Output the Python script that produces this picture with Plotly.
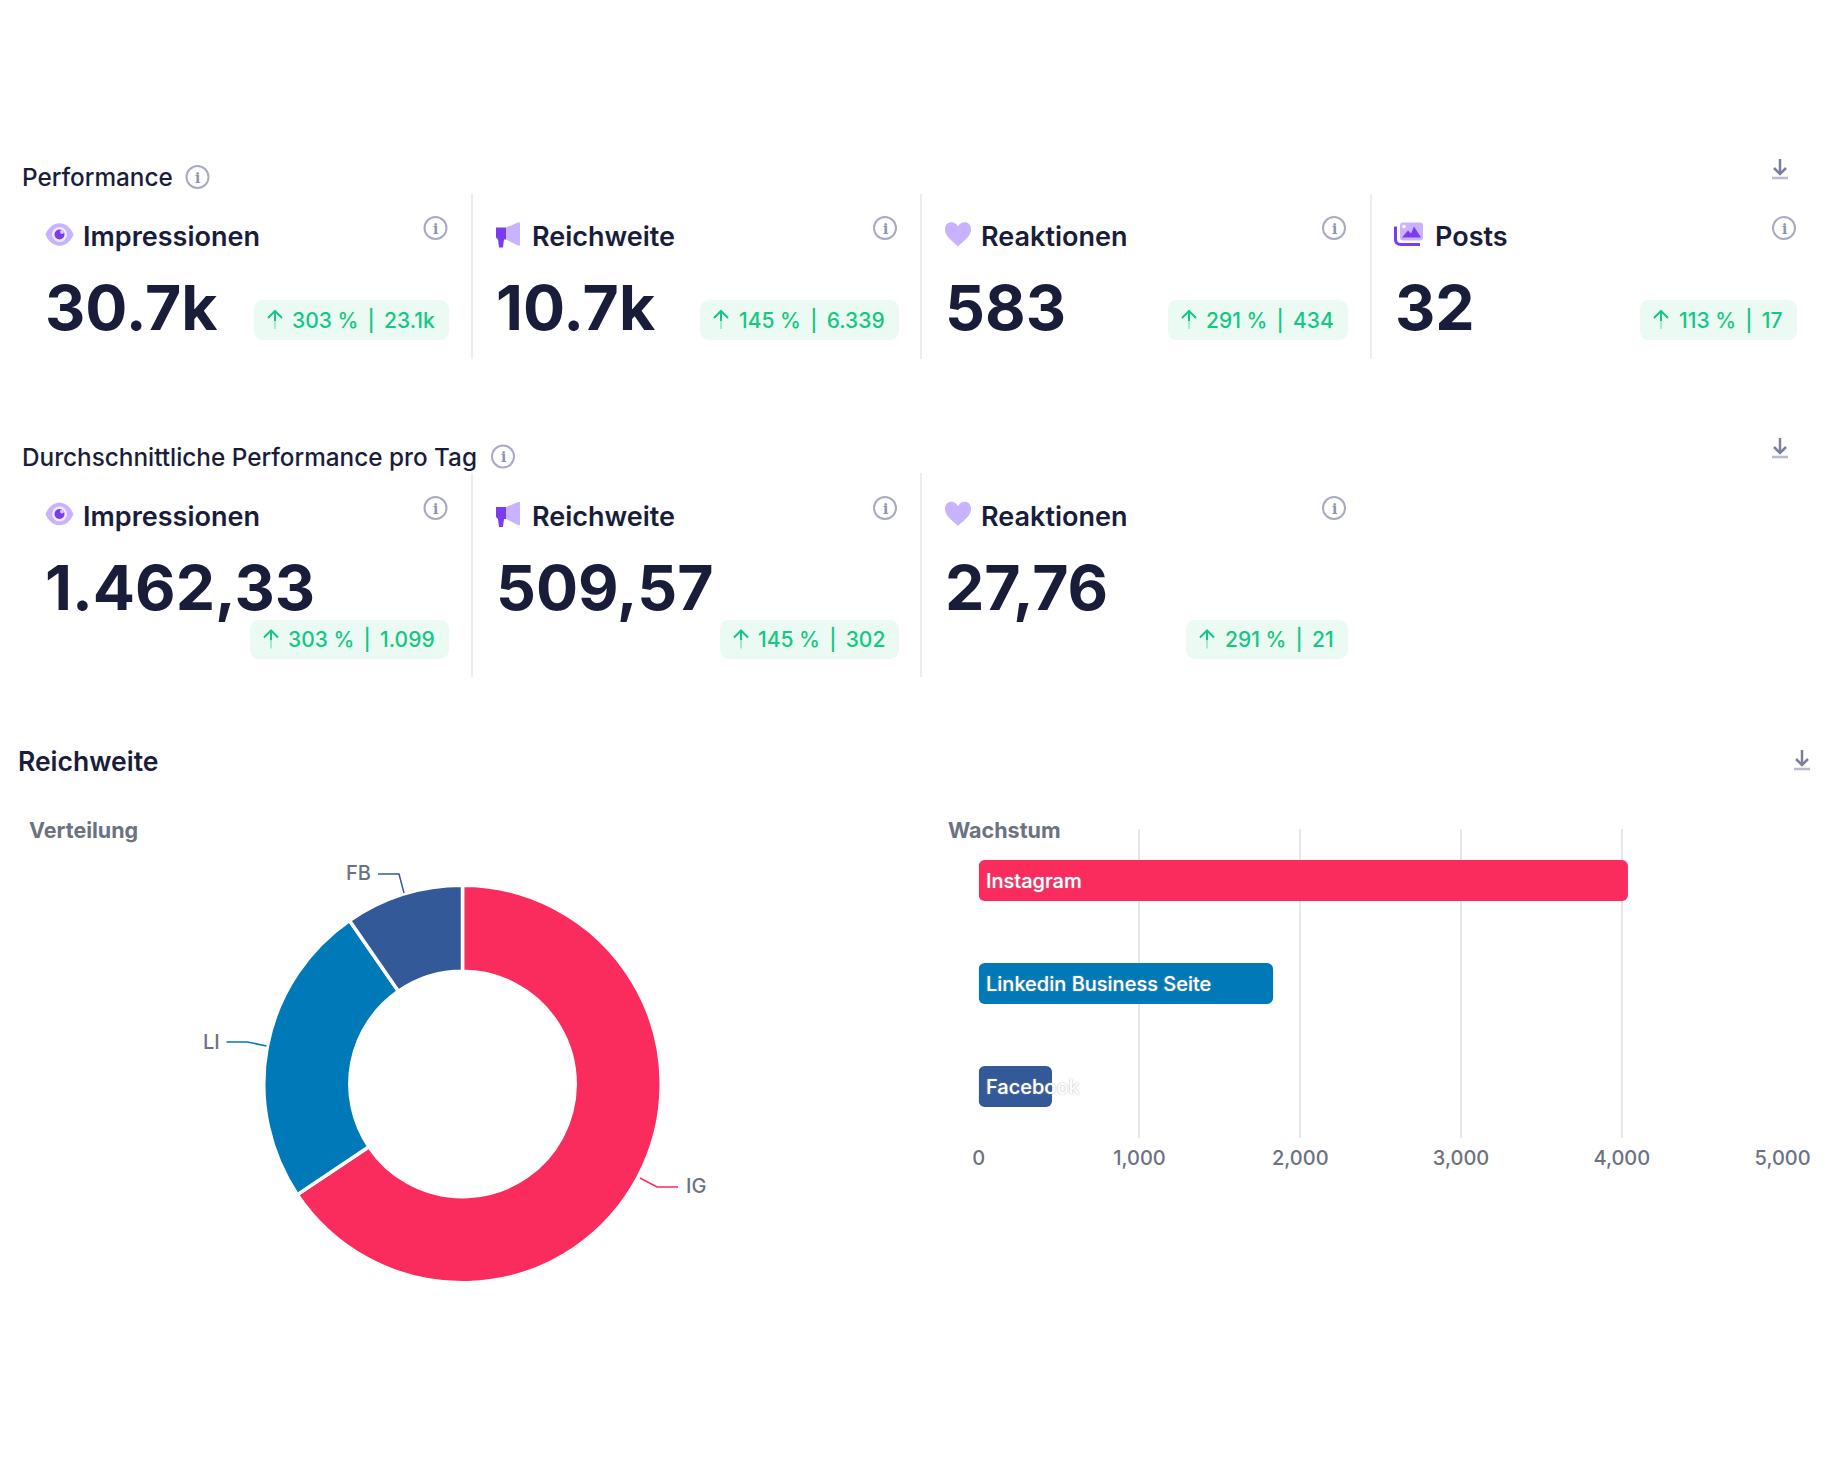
import plotly.graph_objects as go

W, H = 1840, 1472
FONT = "Inter"
DARK = "#191d3a"
GRAY = "#6b7280"
GREEN = "#14c784"
BADGE = "#ebfaf3"
LIGHT_PURPLE = "#c9b2ff"
PURPLE = "#7a3cf0"
ICON_GRAY = "#a8aac2"
RED = "#fa2b5d"
BLUE = "#0079b8"
NAVY = "#345999"

# kpi cards
perf_titles = ["Impressionen", "Reichweite", "Reaktionen", "Posts"]
perf_values = ["30.7k", "10.7k", "583", "32"]
perf_changes = ["303 % | 23.1k", "145 % | 6.339", "291 % | 434", "113 % | 17"]
avg_titles = ["Impressionen", "Reichweite", "Reaktionen"]
avg_values = ["1.462,33", "509,57", "27,76"]
avg_changes = ["303 % | 1.099", "145 % | 302", "291 % | 21"]

# donut
share_labels = ["IG", "LI", "FB"]
share_values = [7020, 2650, 1030]
share_colors = [RED, BLUE, NAVY]

# bars
growth_labels = ["Instagram", "Linkedin Business Seite", "Facebook"]
growth_values = [4038, 1831, 456]
growth_ticks = [0, 1000, 2000, 3000, 4000, 5000]


def px(x):
    return x / W


def py(y):
    return 1 - y / H


def pt(x, y):
    return f"{px(x):.5f},{py(y):.5f}"


def path(*points, close=False):
    s = "M" + " L".join(pt(x, y) for x, y in points)
    return s + (" Z" if close else "")


def round_rect(x0, y0, x1, y1, r):
    return (f"M{pt(x0 + r, y0)} L{pt(x1 - r, y0)} Q{pt(x1, y0)} {pt(x1, y0 + r)} "
            f"L{pt(x1, y1 - r)} Q{pt(x1, y1)} {pt(x1 - r, y1)} L{pt(x0 + r, y1)} "
            f"Q{pt(x0, y1)} {pt(x0, y1 - r)} L{pt(x0, y0 + r)} Q{pt(x0, y0)} {pt(x0 + r, y0)} Z")


shapes = []
annotations = []


def text(x, y, s, size, color=DARK, weight=400, anchor="left", **kw):
    annotations.append(dict(
        x=px(x), y=py(y), xref="paper", yref="paper", text=s, showarrow=False,
        xanchor=anchor, yanchor="middle", borderpad=0, borderwidth=0,
        font=dict(family=FONT, size=size, color=color, weight=weight), **kw,
    ))


def fill_path(d, color):
    shapes.append(dict(type="path", path=d, xref="paper", yref="paper",
                       fillcolor=color, line=dict(width=0), layer="above"))


def stroke(d, color, width=2):
    shapes.append(dict(type="path", path=d, xref="paper", yref="paper",
                       line=dict(color=color, width=width), layer="above"))


def circle(cx, cy, rx, ry, fill=None, line=None, width=0):
    shapes.append(dict(type="circle", xref="paper", yref="paper",
                       x0=px(cx - rx), x1=px(cx + rx), y0=py(cy + ry), y1=py(cy - ry),
                       fillcolor=fill or "rgba(0,0,0,0)",
                       line=dict(color=line or "rgba(0,0,0,0)", width=width), layer="above"))


def info_icon(cx, cy):
    circle(cx, cy, 11, 11, line=ICON_GRAY, width=2)
    text(cx, cy + 0.5, "i", 14, "#8f92b0", 700, "center")
    annotations[-1]["font"]["family"] = "DejaVu Serif"


def download_icon(cx, cy):
    stroke(path((cx, cy - 10), (cx, cy + 4)), "#7b7e9c", 2.5)
    stroke(path((cx - 6, cy - 1), (cx, cy + 5), (cx + 6, cy - 1)), "#7b7e9c", 2.5)
    stroke(path((cx - 8, cy + 9), (cx + 8, cy + 9)), "#b9bbce", 2.5)


def eye_icon(cx, cy):
    d = (f"M{pt(cx - 14, cy)} C{pt(cx - 8, cy - 15)} {pt(cx + 8, cy - 15)} {pt(cx + 14, cy)} "
         f"C{pt(cx + 8, cy + 15)} {pt(cx - 8, cy + 15)} {pt(cx - 14, cy)} Z")
    fill_path(d, LIGHT_PURPLE)
    circle(cx, cy, 7.5, 7.5, fill="#f1ebff")
    circle(cx, cy, 5, 5, fill=PURPLE)
    circle(cx + 2.5, cy - 2.5, 2, 2, fill="#d9c9ff")


def megaphone_icon(cx, cy):
    fill_path(path((cx - 13, cy - 7), (cx - 3, cy - 7), (cx - 3, cy + 5), (cx - 5, cy + 5),
                   (cx - 6, cy + 13), (cx - 10, cy + 13), (cx - 11, cy + 5), (cx - 13, cy + 3),
                   close=True), PURPLE)
    fill_path(path((cx - 3, cy - 7), (cx + 9, cy - 12), (cx + 11, cy - 12), (cx + 11, cy + 11),
                   (cx + 9, cy + 11), (cx - 3, cy + 5), close=True), LIGHT_PURPLE)


def heart_icon(cx, cy):
    d = (f"M{pt(cx, cy + 12)} C{pt(cx - 5, cy + 7)} {pt(cx - 13, cy + 2)} {pt(cx - 13, cy - 5)} "
         f"C{pt(cx - 13, cy - 14)} {pt(cx - 3, cy - 14)} {pt(cx, cy - 8)} "
         f"C{pt(cx + 3, cy - 14)} {pt(cx + 13, cy - 14)} {pt(cx + 13, cy - 5)} "
         f"C{pt(cx + 13, cy + 2)} {pt(cx + 5, cy + 7)} {pt(cx, cy + 12)} Z")
    fill_path(d, LIGHT_PURPLE)


def posts_icon(cx, cy):
    stroke(f"M{pt(cx - 13.5, cy - 8)} L{pt(cx - 13.5, cy + 5)} Q{pt(cx - 13.5, cy + 10)} {pt(cx - 8, cy + 10)} "
           f"L{pt(cx + 11, cy + 10)}", PURPLE, 3)
    fill_path(round_rect(cx - 9, cy - 12, cx + 14, cy + 6, 3), LIGHT_PURPLE)
    circle(cx - 5, cy - 8, 1.8, 1.8, fill="white")
    fill_path(path((cx - 7, cy + 3), (cx - 1, cy - 4), (cx + 2, cy - 1), (cx + 5, cy - 8),
                   (cx + 12, cy + 3), close=True), PURPLE)


ICONS = {"Impressionen": eye_icon, "Reichweite": megaphone_icon, "Reaktionen": heart_icon, "Posts": posts_icon}


def badge(x0, x1, y0, y1, s):
    fill_path(round_rect(x0, y0, x1, y1, 10), BADGE)
    cy = (y0 + y1) / 2
    ax = x0 + 21
    text(x1 - 14, cy, s.replace(" | ", " \u2009|\u2009 "), 21, GREEN, 500, "right")
    stroke(path((ax, cy - 9), (ax, cy + 1)), GREEN, 2)
    stroke(path((ax, cy + 1), (ax, cy + 9)), "#a5ebcd", 2)
    stroke(path((ax - 7, cy - 2), (ax, cy - 9), (ax + 7, cy - 2)), GREEN, 2)


icon_x = [59.5, 509, 958, 1409]
title_x = [83, 532, 981, 1434.5]
value_x = [45, 495.5, 945, 1395]
info_x = [435.5, 885, 1334, 1784]

# first block
text(22, 177, "Performance", 24.3, DARK, 500)
info_icon(197.5, 177)
download_icon(1780, 169)
perf_badges = [(254, 449), (700, 899), (1168, 1348), (1640, 1797)]
for i, name in enumerate(perf_titles):
    ICONS[name](icon_x[i], 234.5)
    text(title_x[i], 236, name, 27, DARK, 600)
    info_icon(info_x[i], 228)
    text(value_x[i], 307, perf_values[i], 62.5, DARK, 700)
    badge(perf_badges[i][0], perf_badges[i][1], 300, 340, perf_changes[i])

# second block
text(22, 456.5, "Durchschnittliche Performance pro Tag", 24.3, DARK, 500)
info_icon(503, 456.5)
download_icon(1780, 448)
avg_badges = [(250, 449), (720, 899), (1186, 1348)]
for i, name in enumerate(avg_titles):
    ICONS[name](icon_x[i], 514)
    text(title_x[i], 516, name, 27, DARK, 600)
    info_icon(info_x[i], 508)
    text(value_x[i], 586.5, avg_values[i], 62.5, DARK, 700)
    badge(avg_badges[i][0], avg_badges[i][1], 620, 659, avg_changes[i])

# card dividers
for x in [472, 921, 1371]:
    stroke(path((x, 194), (x, 359)), "#e5e7eb", 1.5)
for x in [472, 921]:
    stroke(path((x, 473), (x, 677)), "#e5e7eb", 1.5)

# third block
text(17.5, 761, "Reichweite", 26.5, DARK, 600)
download_icon(1802, 760)
text(29, 830, "Verteilung", 21.5, GRAY, 700)
text(948, 830, "Wachstum", 21.5, GRAY, 700, bgcolor="white")

# donut leader lines
leaders = {
    "IG": [(640, 1178), (657, 1187), (678, 1187)],
    "LI": [(226.5, 1042), (247.5, 1042), (266.5, 1046)],
    "FB": [(378, 874), (399, 874), (404, 893)],
}
for lab, col in zip(share_labels, share_colors):
    stroke(path(*leaders[lab]), col, 1.5)
text(686, 1186, "IG", 20, GRAY, 500)
text(203, 1042, "LI", 20, GRAY, 500)
text(346, 873, "FB", 20, GRAY, 500)

# bar labels inside the bars
for lab in growth_labels:
    annotations.append(dict(
        x=0, y=lab, xref="x", yref="y", xshift=5, text=lab, showarrow=False,
        xanchor="left", yanchor="middle",
        font=dict(family=FONT, size=20, color="white", weight=500, shadow="0 0 1.5px #9ca3af"),
    ))

fig = go.Figure()
fig.add_trace(go.Pie(
    labels=share_labels,
    values=share_values,
    hole=0.567,
    sort=False,
    direction="clockwise",
    rotation=0,
    textinfo="none",
    marker=dict(colors=share_colors, line=dict(color="white", width=3.5)),
    domain=dict(x=[px(263.75), px(661.25)], y=[py(1282.75), py(885.25)]),
    showlegend=False,
))
# plotly won't round all four corners of one bar, so each bar is two overlapping
# pieces, the overlap hides the inner corners
fig.add_trace(go.Bar(
    y=growth_labels,
    x=[v * 0.65 for v in growth_values],
    base=[v * 0.35 for v in growth_values],
    orientation="h",
    marker=dict(color=share_colors, cornerradius=6, line=dict(width=0)),
    showlegend=False,
))
fig.add_trace(go.Bar(
    y=growth_labels,
    x=[-v * 0.65 for v in growth_values],
    base=[v * 0.65 for v in growth_values],
    orientation="h",
    marker=dict(color=share_colors, cornerradius=6, line=dict(width=0)),
    showlegend=False,
))
fig.update_layout(
    width=W,
    height=H,
    margin=dict(l=0, r=0, t=0, b=0, autoexpand=False),
    paper_bgcolor="white",
    plot_bgcolor="white",
    barmode="overlay",
    bargap=1 - 41 / 103,
    shapes=shapes,
    annotations=annotations,
    font=dict(family=FONT),
    xaxis=dict(
        domain=[px(978.7), px(1782.6)],
        range=[0, 5000],
        tickvals=growth_ticks,
        tickformat=",",
        showgrid=True,
        gridcolor="#e5e7eb",
        gridwidth=1.5,
        zeroline=False,
        showline=False,
        ticks="",
        automargin=False,
        ticklabelstandoff=6,
        tickfont=dict(family=FONT, size=20, color=GRAY, weight=500),
    ),
    yaxis=dict(
        domain=[py(1138), py(829)],
        autorange="reversed",
        automargin=False,
        showticklabels=False,
        showgrid=False,
        zeroline=False,
        ticks="",
    ),
)
fig.write_html("out.html", config={"displayModeBar": False},
               post_script="document.body.style.margin = '0';")
